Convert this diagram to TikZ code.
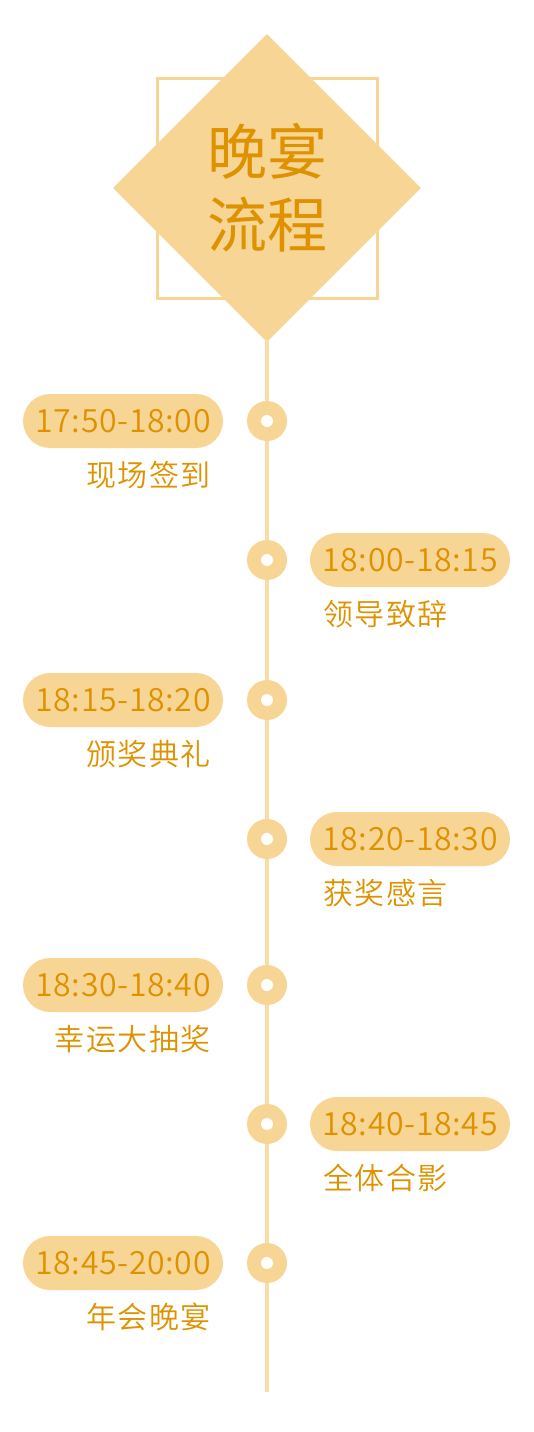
\documentclass[tikz,border=0pt]{standalone}
\usepackage{fontspec}
\setmainfont{Noto Sans CJK SC}
\newfontfamily\lightcjk[LetterSpace=2]{Noto Sans CJK SC DemiLight}
\newfontfamily\lightcap[LetterSpace=5]{Noto Sans CJK SC DemiLight}
\usetikzlibrary{shapes.geometric}
\definecolor{gold}{HTML}{F7D594}
\definecolor{goldline}{HTML}{F9DDA9}
\definecolor{amber}{HTML}{DE9200}

\begin{document}
\begin{tikzpicture}[
    x=1pt, y=-1pt, line cap=rect,
    title/.style={diamond, fill=gold, minimum width=308pt, minimum height=308pt, inner sep=0pt,
      text=amber, align=center, font=\fontsize{60}{73}\selectfont},
    frame/.style={draw=gold, line width=3pt},
    spine/.style={goldline, line width=4pt},
    dot/.style={circle, fill=gold, minimum size=40pt, inner sep=0pt},
    hole/.style={circle, fill=white, minimum size=12pt, inner sep=0pt},
    pill/.style={fill=gold, rounded corners=27pt, minimum width=200pt, minimum height=54pt,
      inner sep=0pt, text=amber, font=\lightcjk\fontsize{32}{32}\selectfont},
    caption/.style={text=amber, inner sep=0pt, font=\lightcap\fontsize{30}{30}\selectfont},
  ]
  \useasboundingbox (0,0) rectangle (534,1432);

  % --- header ---
  \draw[frame] (157,78) rectangle (377,298);
  \node[title] (title) at (267,188) {晚宴\\流程};

  % --- timeline ---
  \coordinate (end) at (267,1390);
  \draw[spine] (title.south) -- (end);

  % --- steps: dot, time pill, caption ---
  \foreach \i/\y/\px/\lx/\anc/\time/\lab in {%
      1/421/123/211/east/17:50-18:00/现场签到,
      2/560/410/323/west/18:00-18:15/领导致辞,
      3/700/123/211/east/18:15-18:20/颁奖典礼,
      4/839/410/323/west/18:20-18:30/获奖感言,
      5/985/123/211/east/18:30-18:40/幸运大抽奖,
      6/1124/410/323/west/18:40-18:45/全体合影,
      7/1263/123/211/east/18:45-20:00/年会晚宴}{
    \node[dot] (d\i) at (267,\y) {};
    \node[hole] (h\i) at (d\i) {};
    \node[pill] (p\i) at (\px,\y) {\time};
    \node[caption, anchor=\anc] (c\i) at (\lx,\y+54) {\lab};
  }
\end{tikzpicture}
\end{document}
